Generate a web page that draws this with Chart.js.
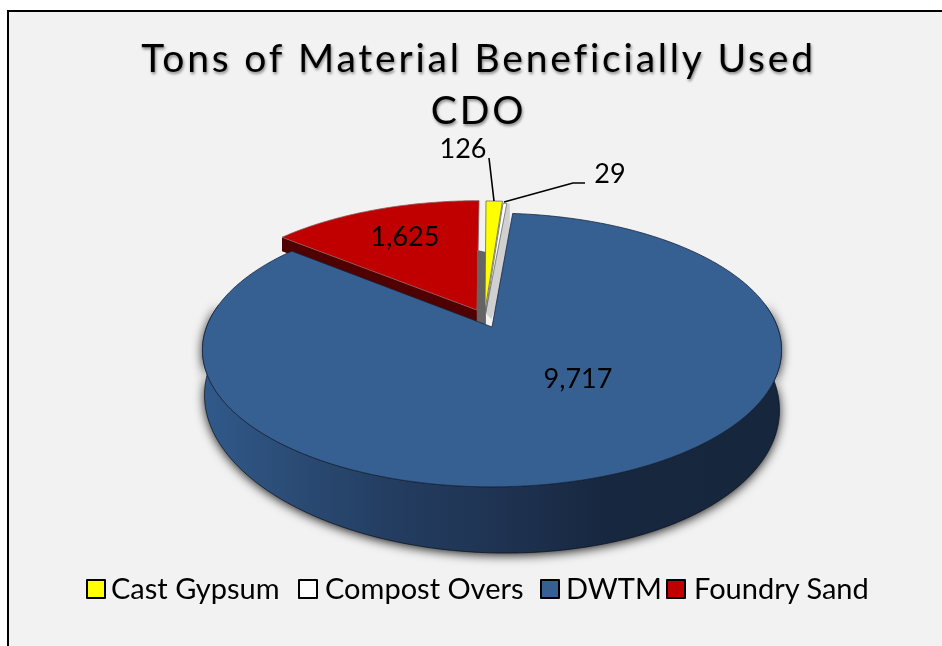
<!DOCTYPE html>
<html>
<head>
<meta charset="utf-8">
<script src="https://cdn.jsdelivr.net/npm/chart.js@4"></script>
<style>
    body { margin: 0; background: #f2f2f2; }
    #wrap { position: relative; width: 942px; height: 646px; overflow: hidden; }
    #legend span.item { position: absolute; top: 571px; font: 29px Lato, sans-serif; color: #000; line-height: 34px; white-space: nowrap; }
    #legend span.box { position: absolute; top: 579px; width: 16px; height: 16px; border: 2px solid #000; border-radius: 1px; }
</style>
</head>
<body>
<div id="wrap">
    <canvas id="pie" width="942" height="646"></canvas>
    <div id="legend"></div>
</div>
<script>
const categories = ["Cast Gypsum", "Compost Overs", "DWTM", "Foundry Sand"]
const tons = [126, 29, 9717, 1625]
const titleLines = ["Tons of Material Beneficially Used", "CDO"]

// look of the chart, not data
const sliceColors = ["#ffff00", "#ffffff", "#366092", "#c00000"]
const legendBoxX = [86, 298, 540, 666]
const legendTextX = [111, 325, 566, 694]
const labelSpots = [[463, 149], [610, 174], [578, 379], [405, 237]]

// perspective of the pie top, centred on the tip of the big slice
const tipX = 492, tipY = 327
const radiusX = 285.4, radiusY = 133, tilt = 0.168
const sideShrink = 0.993
// how far each slice is pulled out from the big one, in pie radii
const pulled = [[-0.025, -0.127], [-0.023, -0.105], [0, 0], [-0.054, -0.13]]

function project(u, v) {
    const d = 1 - tilt * v
    return { x: tipX + radiusX * u / d, y: tipY + radiusY * v / d }
}

// angle a is clockwise from 12 o'clock
function rimPoints(a0, a1, shift) {
    const pts = []
    const steps = Math.max(2, Math.ceil((a1 - a0) / 0.01))
    for (let i = 0; i <= steps; i++) {
        const a = a0 + (a1 - a0) * i / steps
        pts.push(project(shift[0] + Math.sin(a), shift[1] - Math.cos(a)))
    }
    return pts
}

function tracePath(ctx, pts) {
    ctx.beginPath()
    pts.forEach((p, i) => i ? ctx.lineTo(p.x, p.y) : ctx.moveTo(p.x, p.y))
    ctx.closePath()
}

function drawSliceTop(ctx, i, a0, a1, edge) {
    const tip = project(pulled[i][0], pulled[i][1])
    tracePath(ctx, [tip].concat(rimPoints(a0, a1, pulled[i])))
    ctx.fillStyle = sliceColors[i]
    ctx.fill()
    ctx.strokeStyle = edge
    ctx.lineWidth = 0.8
    ctx.stroke()
}

// the rim's wall is not as deep at the sides as at the front
function wallDepth(p) {
    return 52.5 + 0.0985 * (p.y - 350) + 0.026 * (p.x - tipX)
}

function drawBigSide(ctx, a0, a1) {
    const top = rimPoints(a0, a1, pulled[2])
    const bottom = top.map(p => ({ x: tipX + (p.x - tipX) * sideShrink, y: p.y + wallDepth(p) })).reverse()
    const grad = ctx.createLinearGradient(205, 0, 777, 0)
    grad.addColorStop(0, "#30598a")
    grad.addColorStop(0.17, "#2a4a73")
    grad.addColorStop(0.34, "#233c5f")
    grad.addColorStop(0.5, "#1f3453")
    grad.addColorStop(0.7, "#17273f")
    grad.addColorStop(1, "#16263c")
    ctx.save()
    ctx.shadowColor = "rgba(0,0,0,0.9)"
    ctx.shadowBlur = 11
    ctx.shadowOffsetY = 2
    tracePath(ctx, top.concat(bottom))
    ctx.fillStyle = grad
    ctx.fill()
    ctx.restore()
    tracePath(ctx, top.concat(bottom))
    ctx.strokeStyle = "rgba(8,16,28,0.9)"
    ctx.lineWidth = 0.8
    ctx.stroke()
}

const pie3d = {
    id: "pie3d",
    beforeDraw(chart) {
        const ctx = chart.ctx
        ctx.save()
        ctx.fillStyle = "#ffffff"
        ctx.fillRect(0, 0, 942, 646)
        ctx.fillStyle = "#f2f2f2"
        ctx.fillRect(8, 11, 934, 635)
        ctx.fillStyle = "#000000"
        ctx.fillRect(7, 10, 935, 2)
        ctx.fillRect(7, 10, 2, 636)
        ctx.restore()
    },
    // the angles come from the library, only the painting is ours
    beforeDatasetDraw(chart) {
        const ctx = chart.ctx
        const arcs = chart.getDatasetMeta(0).data
        const angles = arcs.map(a => [a.startAngle + Math.PI / 2, a.endAngle + Math.PI / 2])
        const big = angles[2]

        ctx.save()
        ctx.lineJoin = "round"

        // red slice, its wall first
        const redTip = project(pulled[3][0], pulled[3][1])
        const redCorner = rimPoints(angles[3][0], angles[3][0], pulled[3])[0]
        tracePath(ctx, [redTip, redCorner, { x: redCorner.x, y: redCorner.y + 14 }, { x: redTip.x, y: redTip.y + 14 }])
        ctx.fillStyle = "#4f0000"
        ctx.fill()
        drawSliceTop(ctx, 3, angles[3][0], angles[3][1], "#8a5a5a")

        // grey wall behind the thin slices
        tracePath(ctx, [{ x: redTip.x, y: redTip.y - 60 }, { x: redTip.x + 9, y: redTip.y - 58 },
            { x: redTip.x + 9, y: redTip.y + 14 }, { x: redTip.x, y: redTip.y + 14 }])
        ctx.fillStyle = "#646464"
        ctx.fill()

        drawSliceTop(ctx, 0, angles[0][0], angles[0][1], "#666666")

        // light wall on the right of the compost slice
        const compTip = project(pulled[1][0], pulled[1][1])
        const compRim = rimPoints(angles[1][1], angles[1][1], pulled[1])[0]
        tracePath(ctx, [compTip, compRim, { x: compRim.x + 3, y: compRim.y }, { x: compRim.x + 3, y: compRim.y + 60 }, { x: compTip.x + 6, y: compTip.y + 6 }])
        ctx.fillStyle = "#d0d0d0"
        ctx.fill()
        drawSliceTop(ctx, 1, angles[1][0], angles[1][1], "#666666")

        // big slice: side then top
        const sideStart = Math.acos(tilt)
        drawBigSide(ctx, sideStart, 2 * Math.PI - sideStart)
        drawSliceTop(ctx, 2, big[0], big[1], "#16263c")

        // leader lines
        ctx.strokeStyle = "#000000"
        ctx.lineWidth = 1.6
        ctx.beginPath()
        ctx.moveTo(489, 158)
        ctx.lineTo(494, 201)
        ctx.moveTo(504, 202)
        ctx.lineTo(573, 183)
        ctx.lineTo(585, 183)
        ctx.stroke()

        // value labels
        ctx.fillStyle = "#000000"
        ctx.font = "27px Lato, sans-serif"
        ctx.textAlign = "center"
        ctx.textBaseline = "middle"
        tons.forEach((t, i) => {
            ctx.fillText(t.toLocaleString("en-US"), labelSpots[i][0], labelSpots[i][1])
        })
        ctx.restore()
        return false
    }
}

document.addEventListener("DOMContentLoaded", function () {
    const chart = new Chart(document.getElementById("pie").getContext("2d"), {
        type: "pie",
        data: {
            labels: categories,
            datasets: [{ data: tons, backgroundColor: sliceColors }]
        },
        options: {
            responsive: false,
            animation: false,
            layout: { padding: { left: 15, top: 33 } },
            plugins: {
                legend: { display: false },
                tooltip: { enabled: false },
                title: {
                    display: true,
                    text: titleLines,
                    color: "#000000",
                    font: { family: "Lato, sans-serif", size: 39, weight: "normal", lineHeight: 1.335 },
                    padding: 0
                }
            }
        },
        plugins: [pie3d]
    })

    // title has spaced letters and a soft shadow
    const titleDraw = chart.titleBlock.draw
    chart.titleBlock.draw = function () {
        const ctx = chart.ctx
        ctx.save()
        ctx.letterSpacing = "2.8px"
        ctx.shadowColor = "rgba(0,0,0,0.45)"
        ctx.shadowBlur = 3
        ctx.shadowOffsetX = 1
        ctx.shadowOffsetY = 2
        titleDraw.call(this)
        ctx.restore()
    }
    chart.draw()

    // legend sits tighter to its boxes than the built in one allows
    const legend = document.getElementById("legend")
    categories.forEach((name, i) => {
        const box = document.createElement("span")
        box.className = "box"
        box.style.left = legendBoxX[i] + "px"
        box.style.background = sliceColors[i]
        legend.appendChild(box)
        const text = document.createElement("span")
        text.className = "item"
        text.style.left = legendTextX[i] + "px"
        text.textContent = name
        legend.appendChild(text)
    })
})
</script>
</body>
</html>
